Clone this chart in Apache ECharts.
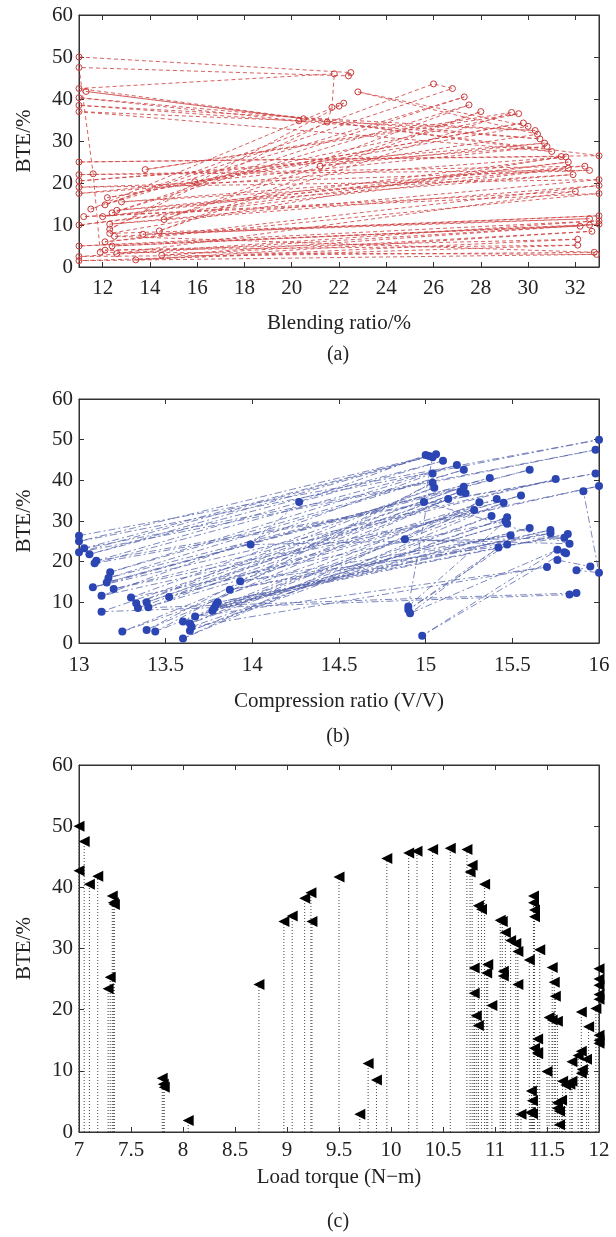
<!DOCTYPE html>
<html>
<head>
<meta charset="utf-8">
<script src="https://cdn.jsdelivr.net/npm/echarts@6/dist/echarts.min.js"></script>
<style>
  html, body { margin: 0; padding: 0; background: #fff; }
  #chart { width: 616px; height: 1237px; }
</style>
</head>
<body>
<div id="chart"></div>
<script>
// (a) BTE vs blending ratio, in the order the points are joined
const blendPoints = [
  [11.0, 50.0], [22.5, 46.3], [22.4, 45.5], [11.0, 47.5], [11.6, 22.2], [11.9, 3.5], [32.9, 3.0],
  [11.0, 1.5], [32.1, 5.2], [12.1, 4.0], [32.1, 6.6], [13.4, 1.7], [32.7, 8.5], [14.5, 2.8], [33.0, 10.2],
  [12.4, 5.0], [32.6, 10.0], [11.0, 2.5], [32.8, 3.5], [12.5, 7.3], [33.0, 12.2], [13.7, 7.8], [32.6, 11.5],
  [12.3, 8.0], [31.4, 26.3], [11.0, 25.0], [33.0, 26.5], [11.3, 41.8], [20.5, 35.3], [20.3, 34.8],
  [11.0, 40.3], [30.5, 30.5], [11.0, 38.5], [30.3, 32.5], [11.0, 37.0], [31.0, 27.5], [11.0, 42.5],
  [21.8, 46.0], [21.7, 38.0], [21.5, 34.5], [12.3, 9.0], [22.0, 38.3], [22.2, 39.0], [11.5, 13.8],
  [26.8, 42.5], [26.0, 43.6], [12.1, 14.8], [27.3, 40.5], [12.4, 12.9], [27.5, 38.6], [14.6, 11.3],
  [28.0, 37.0], [14.4, 8.6], [29.3, 36.8], [13.8, 23.2], [29.6, 36.5], [15.9, 20.3], [29.8, 34.3],
  [12.2, 16.5], [30.0, 33.5], [22.8, 41.7], [30.4, 31.6], [21.2, 24.0], [30.7, 29.5], [11.0, 20.5],
  [30.8, 28.7], [11.0, 17.5], [31.6, 26.2], [12.0, 12.0], [31.7, 25.0], [11.0, 10.0], [31.7, 23.5],
  [12.6, 13.5], [31.9, 22.0], [12.8, 15.5], [32.4, 24.0], [11.0, 22.0], [32.6, 23.0], [11.0, 19.0],
  [33.0, 20.8], [12.3, 10.2], [33.0, 19.4], [12.1, 6.0], [33.0, 17.5], [11.2, 12.0], [32.0, 18.0],
  [12.6, 3.2], [33.0, 11.0], [11.0, 5.0], [32.2, 9.7]
];

// (b) BTE vs compression ratio
const crPoints = [
  [13.00, 26.4], [16.00, 50.0], [13.00, 25.0], [15.02, 46.0], [13.03, 23.3], [15.98, 47.5],
  [13.00, 22.3], [15.06, 46.4], [13.06, 21.8], [15.10, 44.8], [13.10, 20.2], [15.98, 41.7],
  [13.09, 19.6], [15.18, 43.8], [13.18, 17.4], [15.22, 42.6], [13.17, 16.0], [15.60, 42.6],
  [13.16, 14.9], [15.37, 40.6], [13.08, 13.7], [15.75, 40.3], [13.20, 13.3], [16.00, 38.6],
  [13.13, 11.6], [15.04, 41.7], [14.90, 9.0], [15.46, 30.0], [13.30, 11.2], [15.05, 38.2],
  [13.33, 9.8], [15.22, 38.4], [13.13, 7.7], [15.83, 11.9], [15.87, 12.3], [13.34, 8.6], [15.20, 37.2],
  [13.39, 10.0], [15.23, 36.8], [13.40, 8.8], [15.55, 36.3], [13.52, 11.3], [15.41, 35.4],
  [13.25, 2.8], [15.13, 35.4], [13.39, 3.2], [15.04, 39.4], [13.44, 2.8], [15.31, 34.6],
  [13.60, 1.1], [15.45, 34.5], [13.60, 5.3], [15.28, 32.7], [13.64, 4.8], [15.38, 31.2],
  [13.64, 3.0], [15.47, 30.9], [13.65, 4.0], [15.70, 18.7], [13.67, 6.5], [15.47, 29.3],
  [13.77, 7.9], [15.60, 28.3], [13.78, 8.6], [15.72, 27.8], [13.79, 9.4], [15.82, 26.8],
  [13.80, 10.0], [15.72, 27.0], [13.87, 13.1], [15.49, 26.5], [13.93, 15.2], [15.80, 25.9],
  [13.99, 24.2], [14.27, 34.7], [15.00, 46.2], [15.04, 45.7], [14.99, 34.7], [15.83, 24.4],
  [14.88, 25.5], [15.47, 24.2], [14.90, 8.2], [15.42, 23.5], [14.91, 7.3], [15.76, 22.9],
  [14.98, 1.8], [15.80, 22.3], [15.81, 22.1], [15.76, 20.4], [15.95, 18.8], [15.87, 17.9],
  [16.00, 17.3], [15.91, 37.3]
];

// (c) BTE vs load torque (stem plot)
const torquePoints = [
  [7.00, 50.0], [7.00, 42.7], [7.05, 47.5], [7.10, 40.5], [7.18, 41.8], [7.28, 23.4], [7.30, 25.3],
  [7.32, 38.6], [7.33, 37.5], [7.34, 37.2], [7.80, 8.8], [7.81, 7.8], [7.82, 7.3], [8.05, 1.9],
  [8.73, 24.1], [8.97, 34.4], [9.05, 35.3], [9.17, 38.2], [9.23, 39.1], [9.24, 34.4], [9.50, 41.7],
  [9.70, 2.9], [9.78, 11.2], [9.86, 8.5], [9.96, 44.7], [10.17, 45.6], [10.25, 45.9], [10.40, 46.2],
  [10.57, 46.4], [10.73, 46.2], [10.76, 42.5], [10.78, 43.6], [10.80, 26.8], [10.80, 22.7],
  [10.82, 19.0], [10.84, 17.4], [10.84, 37.0], [10.87, 36.4], [10.90, 40.5], [10.92, 26.0],
  [10.93, 27.4], [10.97, 20.7], [11.05, 34.6], [11.07, 34.4], [11.08, 26.3], [11.08, 25.5],
  [11.10, 32.6], [11.15, 31.3], [11.20, 30.8], [11.22, 29.5], [11.22, 24.1], [11.25, 2.9],
  [11.33, 28.1], [11.35, 6.7], [11.36, 5.1], [11.34, 3.2], [11.36, 3.0], [11.37, 38.6], [11.37, 37.5],
  [11.38, 36.3], [11.38, 35.2], [11.38, 13.7], [11.41, 13.0], [11.41, 12.8], [11.41, 15.2],
  [11.43, 29.8], [11.50, 9.9], [11.52, 18.7], [11.55, 18.3], [11.55, 26.9], [11.57, 24.5],
  [11.58, 22.2], [11.60, 18.1], [11.60, 4.8], [11.60, 3.9], [11.62, 3.4], [11.64, 5.2], [11.62, 1.2],
  [11.65, 8.3], [11.68, 7.7], [11.72, 7.8], [11.74, 8.3], [11.74, 11.5], [11.80, 12.5], [11.83, 13.2],
  [11.83, 19.6], [11.83, 9.6], [11.84, 10.2], [11.88, 11.9], [11.90, 17.2], [11.97, 20.2],
  [12.00, 26.7], [12.00, 25.0], [12.00, 24.0], [12.00, 22.5], [12.00, 21.7], [12.00, 15.8],
  [12.00, 15.0], [12.00, 14.5]
];

const blendTicks = [12, 14, 16, 18, 20, 22, 24, 26, 28, 30, 32];
const xNames = ['Blending ratio/%', 'Compression ratio (V/V)', 'Load torque (N\u2212m)'];
const panelTags = ['(a)', '(b)', '(c)'];

const FONT = '"Liberation Serif", "DejaVu Serif", serif';
const INK = '#222';

const chart = echarts.init(document.getElementById('chart'));

const grids = [
  { left: 79, right: 17, top: 15, height: 252 },
  { left: 79, right: 17, top: 399, height: 244 },
  { left: 79, right: 17, top: 765, height: 367 }
].map(g => Object.assign(g, { show: true, borderColor: '#333', borderWidth: 1 }));

const xRanges = [
  { min: 11, max: 33 },
  { min: 13, max: 16, interval: 0.5 },
  { min: 7, max: 12, interval: 0.5 }
];
const labelMargins = [11, 12, 8];
const nameGaps = [46, 48, 35];

function xAxisFor(i, mirror) {
  const ax = Object.assign({
    type: 'value',
    gridIndex: i,
    position: mirror ? 'top' : 'bottom',
    axisLine: { show: true, onZero: false, lineStyle: { color: '#333', width: 1 } },
    axisTick: { show: true, inside: true, length: 5, lineStyle: { color: '#333' } },
    axisLabel: {
      show: !mirror, margin: labelMargins[i],
      fontFamily: FONT, fontSize: 21, color: INK
    },
    splitLine: { show: false }
  }, xRanges[i]);
  if (i === 0) {
    ax.axisTick.customValues = blendTicks;
    ax.axisLabel.customValues = blendTicks;
  }
  if (!mirror) {
    ax.name = xNames[i];
    ax.nameLocation = 'middle';
    ax.nameGap = nameGaps[i];
    ax.nameTextStyle = { fontFamily: FONT, fontSize: 21, color: INK };
  }
  return ax;
}

function yAxisFor(i, mirror) {
  const ax = {
    type: 'value',
    gridIndex: i,
    position: mirror ? 'right' : 'left',
    min: 0, max: 60, interval: 10,
    axisLine: { show: true, onZero: false, lineStyle: { color: '#333', width: 1 } },
    axisTick: { show: true, inside: true, length: 5, lineStyle: { color: '#333' } },
    axisLabel: { show: !mirror, margin: 6, fontFamily: FONT, fontSize: 21, color: INK },
    splitLine: { show: false }
  };
  if (!mirror) {
    ax.name = 'BTE/%';
    ax.nameLocation = 'middle';
    ax.nameGap = 44;
    ax.nameTextStyle = { fontFamily: FONT, fontSize: 21, color: INK };
  }
  return ax;
}

const option = {
  backgroundColor: '#fff',
  animation: false,
  grid: grids,
  xAxis: [0, 1, 2].map(i => xAxisFor(i, false)).concat([0, 1, 2].map(i => xAxisFor(i, true))),
  yAxis: [0, 1, 2].map(i => yAxisFor(i, false)).concat([0, 1, 2].map(i => yAxisFor(i, true))),
  graphic: panelTags.map((t, i) => ({
    type: 'text',
    x: 338,
    y: [355, 737, 1222][i],
    style: {
      text: t, font: '20px ' + FONT, fill: INK,
      align: 'center', verticalAlign: 'middle',
      textAlign: 'center', textVerticalAlign: 'middle'
    }
  })),
  series: [
    {
      type: 'line',
      xAxisIndex: 0, yAxisIndex: 0,
      data: blendPoints,
      symbol: 'circle',
      symbolSize: 6,
      itemStyle: { color: 'rgba(255,255,255,0)', borderColor: '#c83a3a', borderWidth: 1 },
      lineStyle: { color: '#d04545', width: 1, type: [4, 3], opacity: 0.85 }
    },
    {
      type: 'line',
      xAxisIndex: 1, yAxisIndex: 1,
      data: crPoints,
      symbol: 'circle',
      symbolSize: 8,
      itemStyle: { color: '#2b45b3' },
      lineStyle: { color: '#5260aa', width: 1, type: [7, 3, 2, 3], opacity: 0.75 }
    },
    {
      // dotted stems down to zero
      type: 'custom',
      xAxisIndex: 2, yAxisIndex: 2,
      data: torquePoints,
      silent: true,
      renderItem: function (params, api) {
        const top = api.coord([api.value(0), api.value(1)]);
        const base = api.coord([api.value(0), 0]);
        return {
          type: 'line',
          shape: { x1: base[0], y1: base[1], x2: top[0], y2: top[1] },
          style: { stroke: '#444', lineWidth: 1, lineDash: [1, 2] }
        };
      }
    },
    {
      type: 'scatter',
      xAxisIndex: 2, yAxisIndex: 2,
      data: torquePoints,
      symbol: 'triangle',
      symbolRotate: 90,
      symbolSize: [11, 11],
      itemStyle: { color: '#000', opacity: 1 }
    }
  ]
};

chart.setOption(option);
</script>
</body>
</html>
